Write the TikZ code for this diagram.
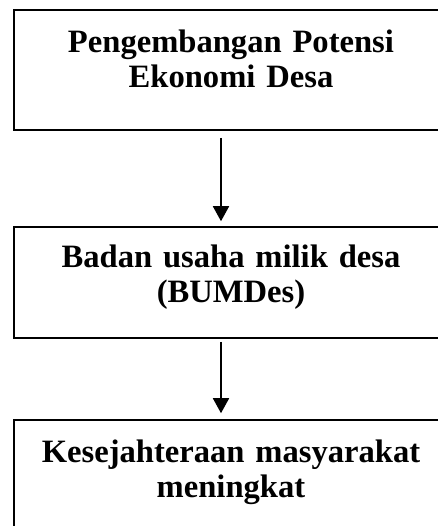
\documentclass[tikz,border=0pt]{standalone}
\usepackage{fontspec}
\setmainfont{Liberation Serif}
\usetikzlibrary{%
  arrows.meta,%
  positioning,% wg. " of "
  calc
}

\begin{document}
\begin{tikzpicture}[
  x=0.5pt, y=-0.5pt,
  font=\fontsize{16.3}{17.8}\selectfont\bfseries,
  >={Triangle[length=7.5pt,width=8pt]},
  box/.style={rectangle, draw=black, line width=0.8pt, minimum width=216pt, inner sep=0pt},
  txt/.style={text width=212pt, align=center, anchor=base, inner sep=0pt},
  arr/.style={->, line width=0.9pt}
]
\clip (0,0) rectangle (438,526);

\node[box, minimum height=60pt] (b1) at (230,70) {};
  \node[txt] (t1) at (231,52) {Pengembangan Potensi\\Ekonomi Desa};
\node[box, minimum height=55.5pt] (b2) at (230,282.5) {};
  \node[txt] (t2) at (231,267) {Badan usaha milik desa\\(BUMDes)};
\node[box, minimum height=60pt] (b3) at (230,480) {};
  \node[txt] (t3) at (231,462) {Kesejahteraan masyarakat\\meningkat};

\draw[arr, shorten <=3.5pt, shorten >=2.5pt] ([xshift=-4.5pt]b1.south) -- ([xshift=-4.5pt]b2.north);
\draw[arr, shorten <=1.5pt, shorten >=3pt] ([xshift=-4.5pt]b2.south) -- ([xshift=-4.5pt]b3.north);
\end{tikzpicture}
\end{document}
